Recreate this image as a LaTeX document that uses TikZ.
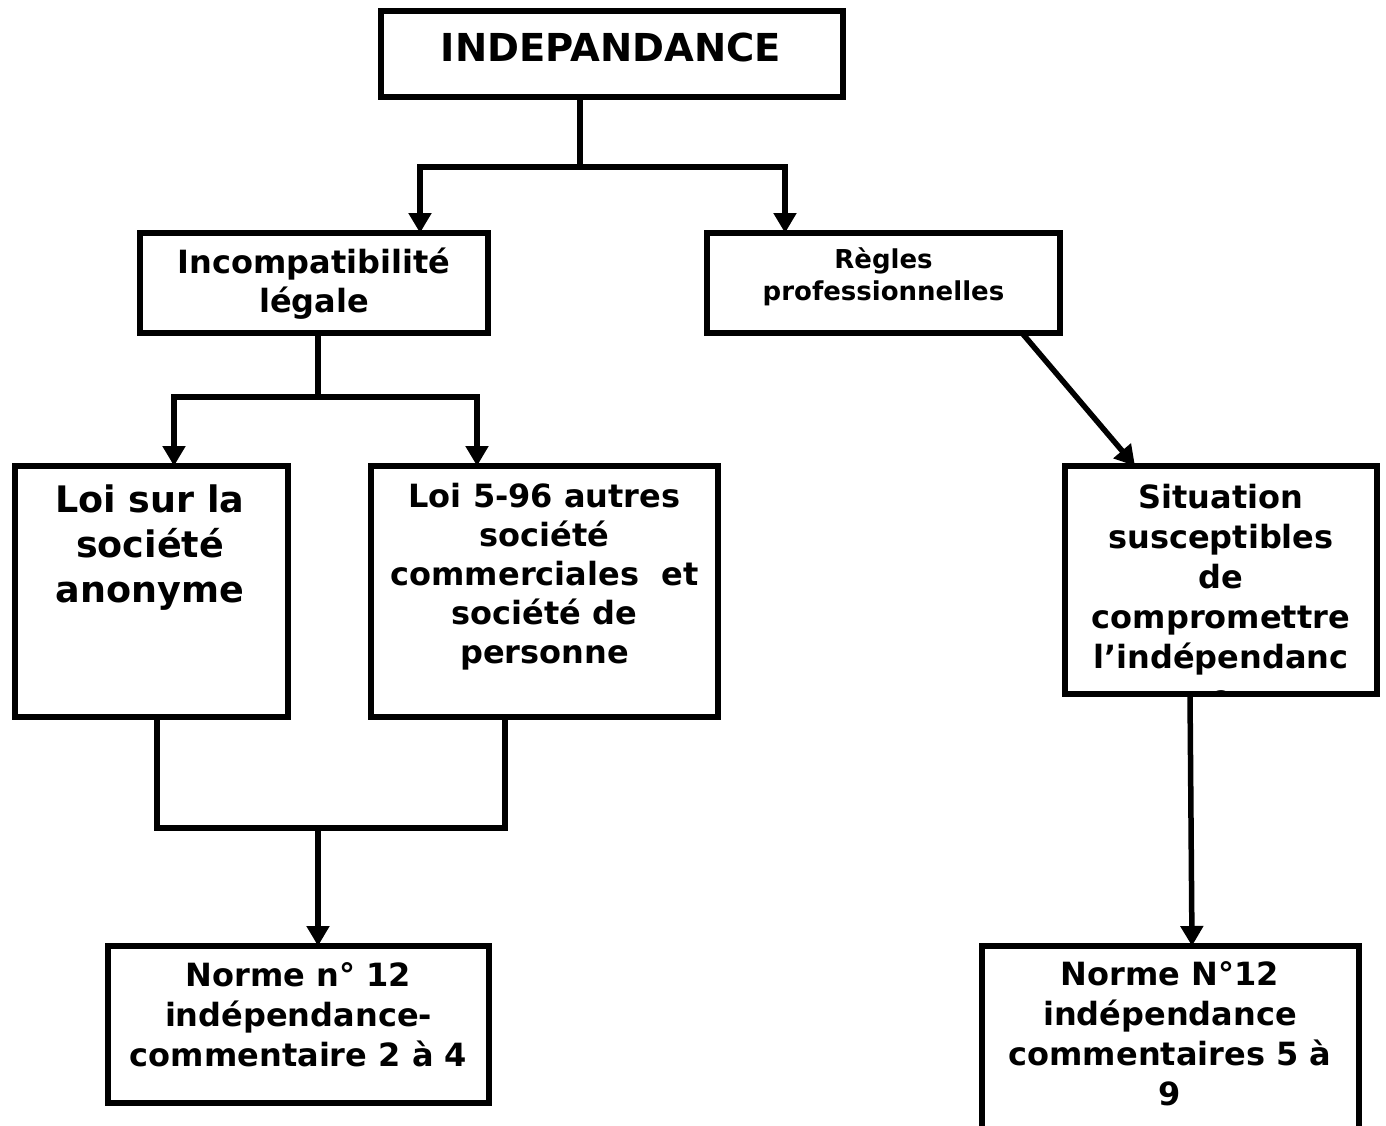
\documentclass[tikz,border=0pt]{standalone}
\usepackage{fontspec}
\setmainfont{DejaVu Sans}
\usetikzlibrary{arrows.meta}
\begin{document}
\begin{tikzpicture}[x=1pt,y=-1pt,
  box/.style={draw, line width=6pt, rectangle, inner sep=0pt, outer sep=0pt},
  txt/.style={align=center, inner sep=0pt, font=\bfseries},
  conn/.style={line width=5.5pt, line join=miter},
  arr/.style={conn, -{Triangle[length=20pt,width=22pt]}}]
\useasboundingbox (0,0) rectangle (1386,1126);
\clip (0,0) rectangle (1386,1126);
% boxes
\node[box, minimum width=462pt, minimum height=86pt] (top) at (612,54) {};
\node[box, minimum width=348pt, minimum height=100pt] (inc) at (314,283) {};
\node[box, minimum width=353pt, minimum height=100pt] (reg) at (883.5,283) {};
\node[box, minimum width=273pt, minimum height=251pt] (loi1) at (151.5,591.5) {};
\node[box, minimum width=347pt, minimum height=251pt] (loi2) at (544.5,591.5) {};
\node[box, minimum width=312pt, minimum height=228pt] (sit) at (1221,580) {};
\node[box, minimum width=381pt, minimum height=157pt] (n1) at (298.5,1024.5) {};
\node[box, minimum width=377pt, minimum height=190pt] (n2) at (1170.5,1041) {};
% texts
\node[txt, font=\bfseries\fontsize{38.5}{46}\selectfont] (ttop) at (611,47) {INDEPANDANCE};
\node[txt, font=\bfseries\fontsize{32}{39}\selectfont] (tinc) at (314,284) {Incompatibilité\\légale};
\node[txt, font=\bfseries\fontsize{26}{32}\selectfont] (treg) at (883.5,277) {Règles\\professionnelles};
\node[txt, font=\bfseries\fontsize{36.5}{45}\selectfont] (tloi1) at (150,548) {Loi sur la\\société\\anonyme};
\node[txt, font=\bfseries\fontsize{32}{39}\selectfont] (tloi2) at (544.5,577) {Loi 5-96 autres\\société\\commerciales~ et\\société de\\personne};
\begin{scope}
\clip ([shift={(3,3)}]sit.north west) rectangle ([shift={(-3,-3)}]sit.south east);
\node[txt, font=\bfseries\fontsize{32}{40}\selectfont] (tsit) at (1221,597) {Situation\\susceptibles\\de\\compromettre\\l’indépendanc\\e};
\end{scope}
\node[txt, font=\bfseries\fontsize{32}{40}\selectfont] (tn1) at (298.5,1015) {Norme n° 12\\indépendance-\\commentaire 2 à 4};
\node[txt, font=\bfseries\fontsize{32}{40}\selectfont] (tn2) at (1170,1034) {Norme N°12\\indépendance\\commentaires 5 à\\9};
% junction coordinates
\coordinate (j1) at (580,167);
\coordinate (j2) at (318,397);
\coordinate (j3) at (318,828);
\coordinate (a1) at (420,0);
\coordinate (a2) at (785,0);
\coordinate (a3) at (174,0);
\coordinate (a4) at (477,0);
% connectors
\draw[conn] (j1 |- top.south) -- (j1);
\draw[arr] (j1) -| (a1 |- inc.north);
\draw[arr] (j1) -| (a2 |- reg.north);
\draw[conn] (j2 |- inc.south) -- (j2);
\draw[arr] (j2) -| (a3 |- loi1.north);
\draw[arr] (j2) -| (a4 |- loi2.north);
\draw[arr] ([xshift=138.5pt]reg.south) -- ([xshift=-86pt]sit.north);
\draw[conn] ([xshift=5.5pt]loi1.south) |- (j3) -| ([xshift=-39.5pt]loi2.south);
\draw[arr] (j3) -- (j3 |- n1.north);
\draw[arr] ([xshift=-31pt]sit.south) -- ([xshift=21.5pt]n2.north);
\end{tikzpicture}
\end{document}
